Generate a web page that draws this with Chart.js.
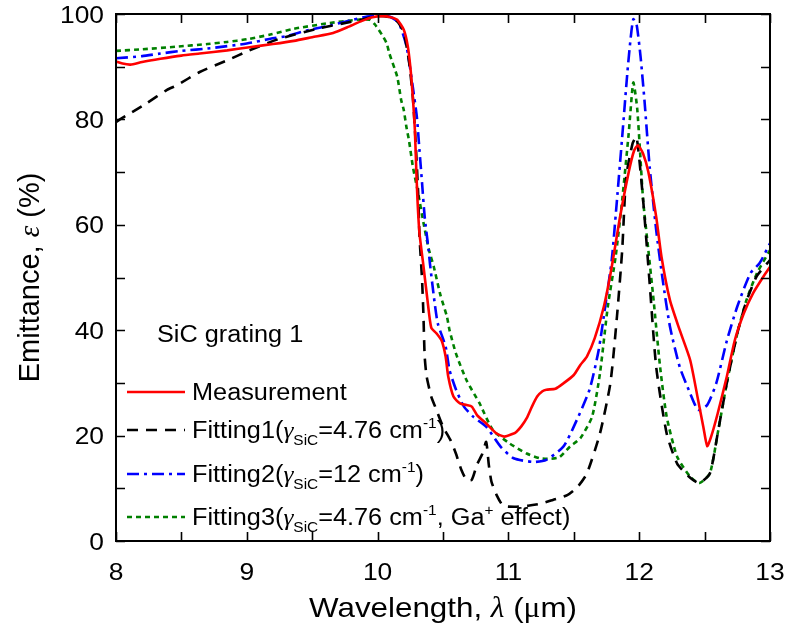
<!DOCTYPE html>
<html>
<head>
<meta charset="utf-8">
<script src="https://cdn.jsdelivr.net/npm/chart.js@4/dist/chart.umd.min.js"></script>
<style>
  html, body { margin: 0; padding: 0; background: #fff; }
  #c { display: block; }
</style>
</head>
<body>
<canvas id="c" width="786" height="639"></canvas>
<script>
// Emittance spectra of SiC grating 1: measurement and three model fittings.

// Measurement
const measWl = [8.00, 8.05, 8.11, 8.20, 8.34, 8.50, 8.64, 8.85, 9.02, 9.20, 9.36, 9.50, 9.66, 9.78, 9.88, 9.96,
  10.04, 10.10, 10.15, 10.20, 10.23, 10.25, 10.27, 10.285, 10.295, 10.305, 10.32, 10.35, 10.38, 10.41,
  10.45, 10.49, 10.52, 10.54, 10.58, 10.63, 10.68, 10.72, 10.76, 10.83, 10.91, 10.97, 11.03, 11.06,
  11.10, 11.14, 11.18, 11.22, 11.26, 11.29, 11.36, 11.42, 11.50, 11.55, 11.60, 11.66, 11.73, 11.79,
  11.85, 11.92, 11.96, 11.99, 12.03, 12.07, 12.13, 12.17, 12.235, 12.31, 12.39, 12.45, 12.49, 12.52,
  12.55, 12.60, 12.67, 12.73, 12.80, 12.87, 12.95, 13.00];
const measEm = [91.0, 90.6, 90.4, 90.9, 91.5, 92.1, 92.5, 93.1, 93.7, 94.3, 94.9, 95.6, 96.4, 97.6, 98.7, 99.4,
  99.6, 99.4, 98.9, 97.0, 94.0, 90.0, 84.0, 78.0, 71.0, 64.7, 58.4, 52.3, 46.0, 40.5,
  39.4, 38.0, 35.0, 31.2, 27.4, 26.1, 25.8, 25.5, 23.9, 22.3, 20.4, 19.8, 20.3, 20.7,
  21.8, 23.3, 25.5, 27.4, 28.4, 28.7, 28.9, 29.9, 31.5, 33.4, 35.0, 38.5, 44.5, 52.0,
  61.0, 70.0, 74.0, 75.1, 73.5, 70.0, 61.5, 54.0, 45.7, 40.0, 34.3, 26.8, 21.7, 18.0,
  19.8, 24.2, 31.2, 38.0, 43.2, 47.0, 50.2, 52.0];

// Fitting1 (gamma_SiC = 4.76 cm^-1)
const fit1Wl = [8.00, 8.03, 8.23, 8.39, 8.46, 8.64, 8.85, 9.02, 9.25, 9.56, 9.87, 10.00, 10.09, 10.15, 10.20,
  10.24, 10.27, 10.29, 10.31, 10.32, 10.34, 10.35, 10.36, 10.375, 10.41, 10.44, 10.50, 10.56, 10.60,
  10.64, 10.68, 10.72, 10.76, 10.80, 10.83, 10.85, 10.87, 10.91, 10.96, 11.05, 11.15, 11.25, 11.34,
  11.45, 11.53, 11.60, 11.70, 11.78, 11.83, 11.87, 11.90, 11.95, 11.98, 12.03, 12.08, 12.13, 12.21,
  12.29, 12.39, 12.46, 12.54, 12.60, 12.67, 12.75, 12.82, 12.90, 13.00];
const fit1Em = [79.5, 80.0, 83.0, 85.6, 86.4, 89.0, 91.2, 93.1, 95.3, 97.3, 98.9, 99.6, 99.4, 98.6, 96.5,
  91.0, 84.0, 76.0, 66.0, 58.0, 49.5, 43.2, 35.0, 31.2, 27.4, 25.5, 21.7, 19.0, 16.5,
  13.5, 11.6, 11.6, 14.5, 16.5, 18.8, 14.5, 11.3, 8.7, 6.7, 6.5, 6.7, 7.1, 7.8,
  8.7, 10.3, 12.8, 20.4, 30.0, 42.6, 55.2, 69.0, 75.5, 76.7, 64.7, 48.9, 33.0, 20.4,
  14.7, 12.0, 11.0, 12.8, 20.4, 30.0, 39.4, 45.5, 50.3, 53.3];

// Fitting2 (gamma_SiC = 12 cm^-1)
const fit2Wl = [8.00, 8.20, 8.34, 8.50, 8.72, 9.00, 9.18, 9.30, 9.48, 9.65, 9.81, 9.92, 9.99, 10.09, 10.14,
  10.17, 10.22, 10.25, 10.27, 10.30, 10.32, 10.34, 10.36, 10.39, 10.40, 10.43, 10.46, 10.52, 10.55,
  10.60, 10.66, 10.73, 10.83, 10.94, 11.04, 11.19, 11.29, 11.42, 11.50, 11.62, 11.69, 11.74, 11.79,
  11.83, 11.87, 11.91, 11.935, 11.955, 11.98, 12.01, 12.04, 12.08, 12.13, 12.18, 12.235, 12.31, 12.39,
  12.45, 12.52, 12.59, 12.67, 12.75, 12.85, 12.92, 13.00];
const fit2Em = [91.6, 92.0, 92.5, 93.0, 93.5, 94.4, 95.3, 95.8, 97.0, 97.9, 98.9, 99.5, 99.7, 99.5, 98.8,
  97.9, 94.0, 89.5, 86.0, 80.5, 74.2, 67.9, 61.5, 55.2, 52.7, 46.4, 41.3, 36.9, 32.4,
  28.7, 25.5, 23.6, 21.7, 17.9, 15.7, 15.0, 15.4, 17.9, 21.7, 28.7, 36.2, 44.5, 53.3,
  64.7, 76.7, 89.0, 95.5, 99.0, 98.0, 92.0, 83.7, 71.0, 59.0, 49.5, 40.7, 33.0, 28.0,
  24.9, 25.8, 30.0, 38.0, 44.5, 50.8, 52.7, 56.5];

// Fitting3 (gamma_SiC = 4.76 cm^-1, Ga+ effect)
const fit3Wl = [8.00, 8.20, 8.46, 8.70, 8.85, 9.00, 9.18, 9.36, 9.61, 9.84, 9.94, 9.98, 10.04, 10.07, 10.09,
  10.15, 10.18, 10.20, 10.22, 10.24, 10.27, 10.31, 10.35, 10.39, 10.43, 10.48, 10.53, 10.55, 10.60,
  10.68, 10.78, 10.88, 11.01, 11.14, 11.24, 11.32, 11.39, 11.47, 11.55, 11.64, 11.70, 11.76, 11.82,
  11.87, 11.92, 11.93, 11.955, 11.985, 12.03, 12.07, 12.11, 12.16, 12.21, 12.29, 12.39, 12.46, 12.54,
  12.60, 12.67, 12.75, 12.82, 12.90, 13.00];
const fit3Em = [93.0, 93.3, 93.8, 94.3, 94.7, 95.2, 96.1, 97.2, 98.2, 98.9, 98.9, 98.0, 95.8, 94.4, 92.5,
  88.1, 83.7, 81.8, 78.6, 76.0, 71.0, 66.0, 60.5, 55.5, 52.0, 46.7, 42.6, 40.0, 35.5,
  30.5, 26.1, 21.1, 18.5, 16.6, 15.7, 15.6, 15.9, 17.9, 19.5, 23.6, 31.8, 44.5, 54.0,
  64.7, 77.4, 80.5, 87.0, 82.0, 64.7, 55.2, 45.7, 33.0, 23.6, 16.0, 12.2, 11.0, 12.8,
  20.4, 30.0, 39.4, 45.7, 50.8, 55.2];

// Axis ticks and labels
const xTickValues = [8, 8.5, 9, 9.5, 10, 10.5, 11, 11.5, 12, 12.5, 13];
const xTickLabels = ['8', '', '9', '', '10', '', '11', '', '12', '', '13'];
const yTickValues = [0, 10, 20, 30, 40, 50, 60, 70, 80, 90, 100];
const yTickLabels = ['0', '', '20', '', '40', '', '60', '', '80', '', '100'];

const SANS = '"Liberation Sans", Arial, sans-serif';
const SERIF = '"Liberation Serif", "Times New Roman", serif';
const STRETCH = 1.1;   // glyphs are drawn slightly wide

const series = [
  { label: 'Measurement', wl: measWl, em: measEm, color: '#ff0000', dash: [] },
  { label: 'Fitting1', wl: fit1Wl, em: fit1Em, color: '#000000', dash: [11, 8] },
  { label: 'Fitting2', wl: fit2Wl, em: fit2Em, color: '#0000ff', dash: [12, 5, 3, 5] },
  { label: 'Fitting3', wl: fit3Wl, em: fit3Em, color: '#008000', dash: [5, 4] }
];

function pairs(xs, ys) { return xs.map((x, i) => ({ x: x, y: ys[i] })); }

// Rich text: runs of {t, it, serif, sub, sup}
function runFont(r, size) {
  const s = (r.sub || r.sup) ? Math.round(size * 0.62) : size;
  const fam = r.serif ? SERIF : SANS;
  return (r.it ? 'italic ' : '') + s + 'px ' + fam;
}
function runsWidth(ctx, runs, size, k) {
  let w = 0;
  for (const r of runs) { ctx.font = runFont(r, size); w += ctx.measureText(r.t).width * k; }
  return w;
}
function drawRuns(ctx, runs, x, y, size, align, k) {
  k = k || STRETCH;
  const total = runsWidth(ctx, runs, size, k);
  let cx = align === 'center' ? x - total / 2 : (align === 'right' ? x - total : x);
  ctx.textBaseline = 'alphabetic';
  ctx.textAlign = 'left';
  for (const r of runs) {
    ctx.font = runFont(r, size);
    const dy = r.sub ? size * 0.32 : (r.sup ? -size * 0.42 : 0);
    ctx.save();
    ctx.translate(cx, y + dy);
    ctx.scale(k, 1);
    ctx.fillText(r.t, 0, 0);
    ctx.restore();
    cx += ctx.measureText(r.t).width * k;
  }
}

const legendRows = [
  [{ t: 'Measurement' }],
  [{ t: 'Fitting1(' }, { t: 'γ', it: true, serif: true }, { t: 'SiC', sub: true }, { t: '=4.76 cm' }, { t: '-1', sup: true }, { t: ')' }],
  [{ t: 'Fitting2(' }, { t: 'γ', it: true, serif: true }, { t: 'SiC', sub: true }, { t: '=12 cm' }, { t: '-1', sup: true }, { t: ')' }],
  [{ t: 'Fitting3(' }, { t: 'γ', it: true, serif: true }, { t: 'SiC', sub: true }, { t: '=4.76 cm' }, { t: '-1', sup: true }, { t: ', Ga' }, { t: '+', sup: true }, { t: ' effect)' }]
];
const legendBaselines = [400, 438, 482, 525];

const decor = {
  id: 'decor',
  afterDatasetsDraw(chart) {
    const ctx = chart.ctx;
    const a = chart.chartArea;
    const xs = chart.scales.x, ys = chart.scales.y;
    ctx.save();
    ctx.fillStyle = '#000';
    ctx.strokeStyle = '#000';

    // frame
    ctx.lineWidth = 2;
    ctx.strokeRect(a.left, a.top, a.right - a.left, a.bottom - a.top);

    // inward ticks on all four sides
    const TL = 9;
    ctx.lineWidth = 1.6;
    ctx.beginPath();
    xTickValues.forEach(v => {
      const px = Math.round(xs.getPixelForValue(v)) + 0.5;
      ctx.moveTo(px, a.bottom); ctx.lineTo(px, a.bottom - TL);
      ctx.moveTo(px, a.top); ctx.lineTo(px, a.top + TL);
    });
    yTickValues.forEach(v => {
      const py = Math.round(ys.getPixelForValue(v)) + 0.5;
      ctx.moveTo(a.left, py); ctx.lineTo(a.left + TL, py);
      ctx.moveTo(a.right, py); ctx.lineTo(a.right - TL, py);
    });
    ctx.stroke();

    // tick labels
    xTickValues.forEach((v, i) => {
      if (!xTickLabels[i]) return;
      drawRuns(ctx, [{ t: xTickLabels[i] }], xs.getPixelForValue(v), a.bottom + 39, 24, 'center');
    });
    yTickValues.forEach((v, i) => {
      if (!yTickLabels[i]) return;
      drawRuns(ctx, [{ t: yTickLabels[i] }], a.left - 12, ys.getPixelForValue(v) + 8.5, 24, 'right');
    });

    // axis titles
    drawRuns(ctx, [{ t: 'Wavelength, ' }, { t: 'λ', it: true, serif: true }, { t: ' (' }, { t: 'μ', serif: true }, { t: 'm)' }],
      (a.left + a.right) / 2, 617, 28.5, 'center');
    ctx.save();
    ctx.translate(39, (a.top + a.bottom) / 2);
    ctx.rotate(-Math.PI / 2);
    drawRuns(ctx, [{ t: 'Emittance, ' }, { t: 'ε', it: true, serif: true }, { t: ' (%)' }], 0, 0, 29, 'center', 1.0);
    ctx.restore();

    // sample label
    drawRuns(ctx, [{ t: 'SiC grating 1' }], 157, 342, 23, 'left');

    // legend
    series.forEach((s, i) => {
      const yl = legendBaselines[i] - 8;
      ctx.save();
      ctx.strokeStyle = s.color;
      ctx.lineWidth = 2.5;
      ctx.setLineDash(s.dash);
      ctx.beginPath();
      ctx.moveTo(127, yl); ctx.lineTo(185, yl);
      ctx.stroke();
      ctx.restore();
      drawRuns(ctx, legendRows[i], 192, legendBaselines[i], 23, 'left');
    });
    ctx.restore();
  }
};

new Chart(document.getElementById('c'), {
  type: 'line',
  data: {
    datasets: series.map((s, i) => ({
      label: s.label,
      data: pairs(s.wl, s.em),
      borderColor: s.color,
      borderWidth: 2.6,
      borderDash: s.dash,
      pointRadius: 0,
      tension: 0.2,
      fill: false,
      order: i
    }))
  },
  options: {
    responsive: false,
    devicePixelRatio: 1,
    animation: false,
    layout: { padding: { top: 14, right: 16, left: 0, bottom: 0 } },
    plugins: { legend: { display: false }, tooltip: { enabled: false } },
    scales: {
      x: {
        type: 'linear', min: 8, max: 13,
        ticks: { display: false, stepSize: 0.5 },
        grid: { display: false }, border: { display: false },
        afterFit(s) { s.height = 98; }
      },
      y: {
        type: 'linear', min: 0, max: 100,
        ticks: { display: false, stepSize: 10 },
        grid: { display: false }, border: { display: false },
        afterFit(s) { s.width = 116; }
      }
    }
  },
  plugins: [decor]
});
</script>
</body>
</html>
